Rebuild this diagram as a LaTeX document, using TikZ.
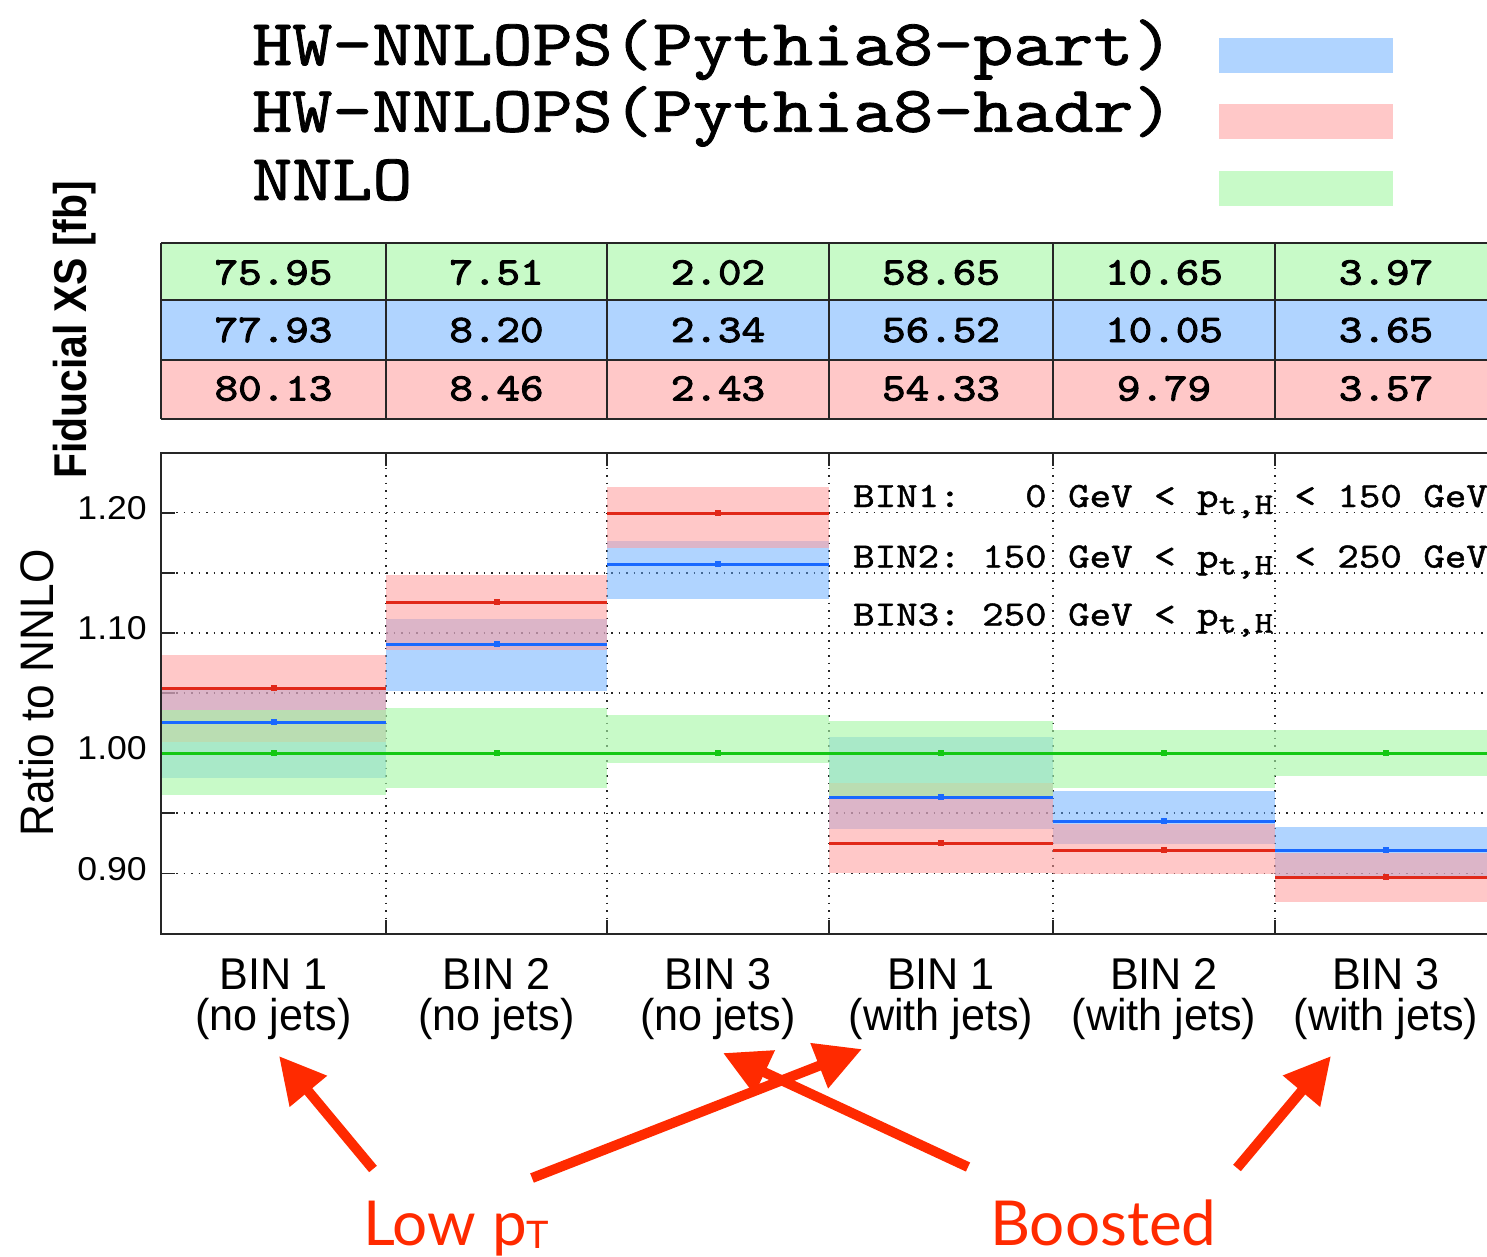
\documentclass[tikz,border=0pt]{standalone}
\usepackage{fontspec}
\setmainfont{Liberation Sans}
\newfontfamily\ylabelfont[FakeStretch=0.94]{Liberation Sans}
\newfontfamily\yboldfont[FakeStretch=0.89]{Liberation Sans}
\newfontfamily\tickfont[FakeStretch=1.08]{Liberation Sans}
\newfontfamily\binfont[FakeStretch=0.97]{Liberation Sans}
\newfontfamily\calloutfont{Lato}
% typewriter faces, widened and thickened
\newfontfamily\legendmono[FakeStretch=1.165,FakeBold=1.2]{lmmono10-regular.otf}
\newfontfamily\cellmono[FakeStretch=1.15,FakeBold=2.5]{lmmono10-regular.otf}
\newfontfamily\annotmono[FakeStretch=1.15,FakeBold=1.2]{lmmono10-regular.otf}
\usetikzlibrary{arrows.meta}

\newcommand\lowsub[1]{\raisebox{-7pt}{\fontsize{30}{30}\selectfont #1}}

% band colours are drawn translucent so that overlaps mix
\definecolor{bandblue}{RGB}{97,169,255}
\definecolor{bandred}{RGB}{255,157,157}
\definecolor{bandgreen}{RGB}{166,247,166}
\definecolor{fillblue}{RGB}{176,212,255}
\definecolor{fillred}{RGB}{255,200,200}
\definecolor{fillgreen}{RGB}{200,250,200}
\definecolor{linered}{RGB}{225,40,25}
\definecolor{lineblue}{RGB}{25,105,255}
\definecolor{linegreen}{RGB}{20,200,20}
\definecolor{callout}{RGB}{255,42,0}

\begin{document}
\begin{tikzpicture}[x=1pt,y=-1pt,
  gridline/.style={line width=1.5pt,black!85,dash pattern=on 1.5pt off 6pt},
  axistick/.style={line width=1.6pt,black!85},
  frameline/.style={line width=2pt,black!85},
  cellrule/.style={line width=1.8pt,black!85},
  bandB/.style={fill=bandblue,fill opacity=0.5},
  bandR/.style={fill=bandred,fill opacity=0.56},
  bandG/.style={fill=bandgreen,fill opacity=0.62},
  lineR/.style={line width=3pt,linered},
  lineB/.style={line width=3pt,lineblue},
  lineG/.style={line width=3pt,linegreen},
  legendtext/.style={anchor=base west,inner sep=0pt,font=\legendmono\fontsize{65.5}{65.5}\selectfont},
  swatch/.style={anchor=north west,minimum width=174pt,minimum height=35pt,inner sep=0pt,draw=none},
  cellnum/.style={anchor=base,inner sep=0pt,font=\cellmono\fontsize{39}{39}\selectfont},
  annot/.style={anchor=base west,inner sep=0pt,font=\annotmono\fontsize{35.6}{35.6}\selectfont},
  ticklabel/.style={anchor=base east,inner sep=0pt,font=\tickfont\fontsize{33}{33}\selectfont},
  bintext/.style={anchor=base,inner sep=0pt,font=\binfont\fontsize{44.5}{44.5}\selectfont},
  callouttext/.style={anchor=base west,inner sep=0pt,text=callout,font=\calloutfont\fontsize{62}{62}\selectfont},
  pointer/.style={draw=callout,line width=10pt,-{Triangle[length=46pt,width=46pt]}},
]
\useasboundingbox (0,0) rectangle (1487,1256);
\clip (0,0) rectangle (1487,1256);

% legend
\node[legendtext] (leg-part) at (252,65) {HW-NNLOPS(Pythia8-part)};
\node[legendtext] (leg-hadr) at (252,131.7) {HW-NNLOPS(Pythia8-hadr)};
\node[legendtext] (leg-nnlo) at (252,200) {NNLO};
\node[swatch,fill=fillblue] (sw-part) at (1219,37.3) {};
\node[swatch,fill=fillred] (sw-hadr) at (1219,104) {};
\node[swatch,fill=fillgreen] (sw-nnlo) at (1219,171) {};

% fiducial cross-section table
\fill[fillgreen] (161,243) rectangle (1497,300);
\fill[fillblue] (161,300) rectangle (1497,360);
\fill[fillred] (161,360) rectangle (1497,419);
\foreach \y in {243,300,360,419} \draw[cellrule] (161,\y) -- (1497,\y);
\foreach \x in {161,386,607,829,1053,1275} \draw[cellrule] (\x,243) -- (\x,419);
\foreach \c/\xc/\vg/\vb/\vr in {1/273.5/75.95/77.93/80.13, 2/496.5/7.51/8.20/8.46,
    3/718/2.02/2.34/2.43, 4/941/58.65/56.52/54.33, 5/1164/10.65/10.05/9.79,
    6/1386/3.97/3.65/3.57}{
  \node[cellnum] (xs-nnlo-\c) at (\xc,284.5) {\vg};
  \node[cellnum] (xs-part-\c) at (\xc,342) {\vb};
  \node[cellnum] (xs-hadr-\c) at (\xc,400.5) {\vr};
}
\node[rotate=90,anchor=base,inner sep=0pt,font=\yboldfont\bfseries\fontsize{46}{46}\selectfont]
  (xs-label) at (86,330) {Fiducial XS [fb]};

% ratio panel: grid
\foreach \k in {0,...,6}{
  \draw[gridline] (161,{512.7+60.1*\k}) -- (1497,{512.7+60.1*\k});
  \draw[axistick] (161,{512.7+60.1*\k}) -- (175,{512.7+60.1*\k});
}
\foreach \x in {386,607,829,1053,1275}{
  \draw[gridline] (\x,452.5) -- (\x,934);
  \draw[axistick] (\x,452.5) -- (\x,466);
  \draw[axistick] (\x,934) -- (\x,920);
}

% ratio panel: uncertainty bands, central values
\foreach \xa/\xb/\bt/\bb/\rt/\rb/\gt/\gb in {
    161/386/690/778/655/742/710/795,
    386/607/619/691/575/650/708/788,
    607/829/541/599/487/548/715/763,
    829/1053/737/829/783/873/721/796,
    1053/1275/791/844/824/874/730/788,
    1275/1497/827/877/853/902/730/776}{
  \fill[bandB] (\xa,\bt) rectangle (\xb,\bb);
  \fill[bandR] (\xa,\rt) rectangle (\xb,\rb);
  \fill[bandG] (\xa,\gt) rectangle (\xb,\gb);
}
\foreach \xa/\xb/\ry/\by in {161/386/688/722, 386/607/602/644, 607/829/513/564,
    829/1053/843/797, 1053/1275/850/821, 1275/1497/877/850}{
  \draw[lineR] (\xa,\ry) -- (\xb,\ry);
  \draw[lineB] (\xa,\by) -- (\xb,\by);
  \draw[lineG] (\xa,753.3) -- (\xb,753.3);
  \fill[linered] ({(\xa+\xb)/2-3},\ry-3) rectangle ({(\xa+\xb)/2+3},\ry+3);
  \fill[lineblue] ({(\xa+\xb)/2-3},\by-3) rectangle ({(\xa+\xb)/2+3},\by+3);
  \fill[linegreen] ({(\xa+\xb)/2-3},750.3) rectangle ({(\xa+\xb)/2+3},756.3);
}
\draw[frameline] (161,452.5) rectangle (1497,934);

% axis labels
\node[ticklabel] (tick-120) at (147,519.2) {1.20};
\node[ticklabel] (tick-110) at (147,639.6) {1.10};
\node[ticklabel] (tick-100) at (147,759.8) {1.00};
\node[ticklabel] (tick-090) at (147,880.2) {0.90};
\node[rotate=90,anchor=base,inner sep=0pt,font=\ylabelfont\fontsize{47}{47}\selectfont]
  (ratio-label) at (53,693) {Ratio to NNLO};

% bin definitions
\node[annot] (def-bin1) at (853,507) {BIN1:~~~0~GeV~<~p\lowsub{t,H}~<~150~GeV};
\node[annot] (def-bin2) at (853,567.5) {BIN2:~150~GeV~<~p\lowsub{t,H}~<~250~GeV};
\node[annot] (def-bin3) at (853,625.5) {BIN3:~250~GeV~<~p\lowsub{t,H}};

% bin names
\foreach \i/\xc/\nm/\jt in {1/273.5/BIN 1/(no jets), 2/496.5/BIN 2/(no jets),
    3/718/BIN 3/(no jets), 4/941/BIN 1/(with jets), 5/1164/BIN 2/(with jets),
    6/1386/BIN 3/(with jets)}{
  \node[bintext] (binname-\i) at (\xc,989.5) {\nm};
  \node[bintext] (binjets-\i) at (\xc,1030) {\jt};
}

% call-outs
\node[callouttext] (lowpt) at (363,1245)
  {Low p{\fontsize{38}{38}\selectfont\raisebox{-3pt}{T}}};
\node[callouttext] (boosted) at (990,1245) {Boosted};
\coordinate (lowpt-left) at (373,1169);
\coordinate (lowpt-right) at (532,1178);
\coordinate (boosted-left) at (968,1167);
\coordinate (boosted-right) at (1237,1168);
\coordinate (aim-1) at (279,1056);
\coordinate (aim-4) at (862,1049);
\coordinate (aim-3) at (723,1053);
\coordinate (aim-6) at (1331,1056);
\draw[pointer] (lowpt-left) -- (aim-1);
\draw[pointer] (lowpt-right) -- (aim-4);
\draw[pointer] (boosted-left) -- (aim-3);
\draw[pointer] (boosted-right) -- (aim-6);
\end{tikzpicture}
\end{document}
